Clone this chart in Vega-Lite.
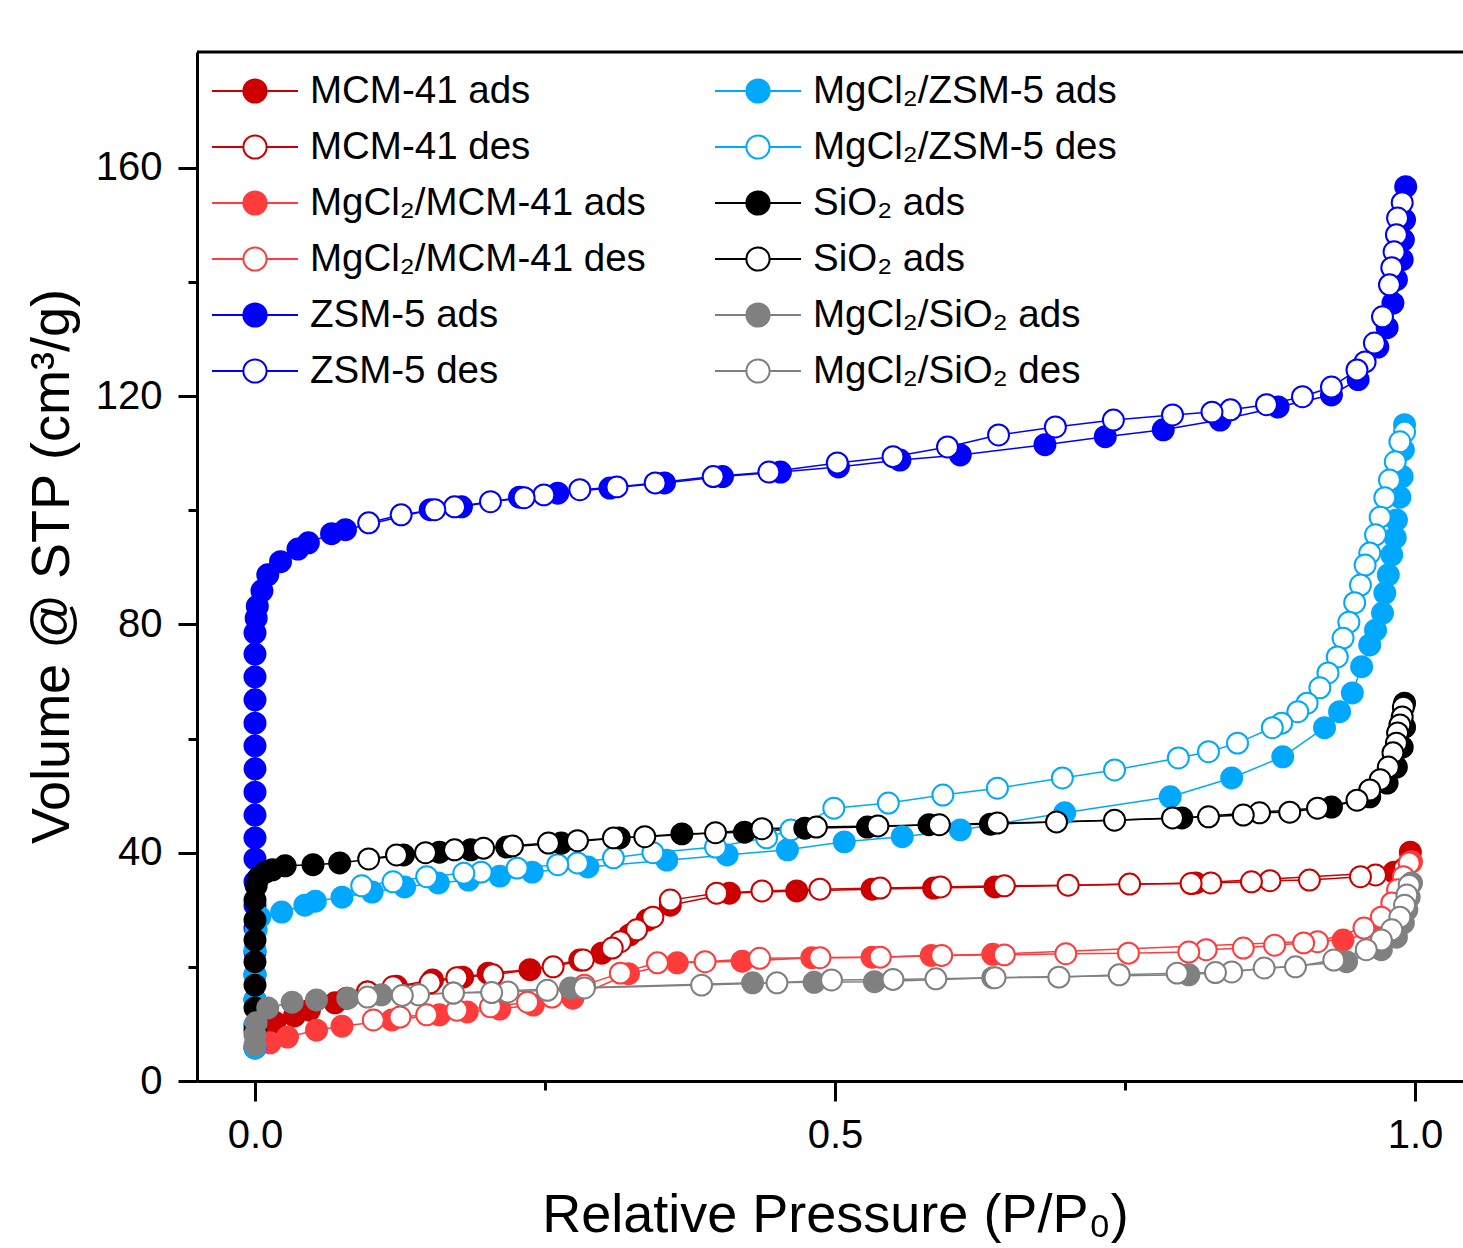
{
  "$schema": "https://vega.github.io/schema/vega-lite/v6.json",
  "autosize": {"type": "none"},
  "padding": {"left": 197, "top": 52, "right": 0, "bottom": 167},
  "width": 1266,
  "height": 1029,
  "background": "white",
  "config": {
    "view": {"stroke": null},
    "axis": {"domainColor": "black", "domainWidth": 3, "tickColor": "black", "tickWidth": 3, "labelFont": "Liberation Sans", "labelFontSize": 40, "labelColor": "black", "titleFont": "Liberation Sans", "titleFontSize": 54, "titleFontWeight": "normal", "titleColor": "black", "grid": false, "labelFlush": false, "labelOverlap": false}
  },
  "datasets": {
    "iso": [
      {"s":"MCM-41 ads","p":0.001,"v":6.3},{"s":"MCM-41 ads","p":0.006,"v":8.9},{"s":"MCM-41 ads","p":0.017,"v":10.3},{"s":"MCM-41 ads","p":0.034,"v":11.4},{"s":"MCM-41 ads","p":0.047,"v":12.4},{"s":"MCM-41 ads","p":0.069,"v":13.7},{"s":"MCM-41 ads","p":0.079,"v":14.5},{"s":"MCM-41 ads","p":0.097,"v":15.6},{"s":"MCM-41 ads","p":0.122,"v":16.6},{"s":"MCM-41 ads","p":0.153,"v":17.7},{"s":"MCM-41 ads","p":0.179,"v":18.2},{"s":"MCM-41 ads","p":0.201,"v":18.9},{"s":"MCM-41 ads","p":0.237,"v":19.5},{"s":"MCM-41 ads","p":0.28,"v":21.2},{"s":"MCM-41 ads","p":0.299,"v":22.4},{"s":"MCM-41 ads","p":0.323,"v":25.6},{"s":"MCM-41 ads","p":0.338,"v":28.2},{"s":"MCM-41 ads","p":0.358,"v":30.8},{"s":"MCM-41 ads","p":0.409,"v":32.9},{"s":"MCM-41 ads","p":0.467,"v":33.3},{"s":"MCM-41 ads","p":0.532,"v":33.6},{"s":"MCM-41 ads","p":0.585,"v":33.8},{"s":"MCM-41 ads","p":0.638,"v":34.0},{"s":"MCM-41 ads","p":0.811,"v":34.7},{"s":"MCM-41 ads","p":0.982,"v":36.6},{"s":"MCM-41 ads","p":0.996,"v":40.1},
      {"s":"MCM-41 des","p":0.991,"v":37.3},{"s":"MCM-41 des","p":0.966,"v":36.1},{"s":"MCM-41 des","p":0.953,"v":35.8},{"s":"MCM-41 des","p":0.909,"v":35.2},{"s":"MCM-41 des","p":0.875,"v":35.1},{"s":"MCM-41 des","p":0.859,"v":34.9},{"s":"MCM-41 des","p":0.824,"v":34.7},{"s":"MCM-41 des","p":0.807,"v":34.6},{"s":"MCM-41 des","p":0.754,"v":34.5},{"s":"MCM-41 des","p":0.701,"v":34.3},{"s":"MCM-41 des","p":0.646,"v":34.2},{"s":"MCM-41 des","p":0.591,"v":34.0},{"s":"MCM-41 des","p":0.539,"v":33.8},{"s":"MCM-41 des","p":0.487,"v":33.6},{"s":"MCM-41 des","p":0.437,"v":33.3},{"s":"MCM-41 des","p":0.398,"v":32.9},{"s":"MCM-41 des","p":0.358,"v":31.7},{"s":"MCM-41 des","p":0.343,"v":28.7},{"s":"MCM-41 des","p":0.329,"v":26.5},{"s":"MCM-41 des","p":0.315,"v":24.4},{"s":"MCM-41 des","p":0.308,"v":23.3},{"s":"MCM-41 des","p":0.283,"v":21.2},{"s":"MCM-41 des","p":0.257,"v":20.0},{"s":"MCM-41 des","p":0.205,"v":18.6},{"s":"MCM-41 des","p":0.174,"v":18.1},{"s":"MCM-41 des","p":0.151,"v":17.2},{"s":"MCM-41 des","p":0.119,"v":16.5},{"s":"MCM-41 des","p":0.097,"v":15.6},
      {"s":"MgCl₂/MCM-41 ads","p":0.013,"v":6.7},{"s":"MgCl₂/MCM-41 ads","p":0.028,"v":7.7},{"s":"MgCl₂/MCM-41 ads","p":0.053,"v":8.9},{"s":"MgCl₂/MCM-41 ads","p":0.075,"v":9.6},{"s":"MgCl₂/MCM-41 ads","p":0.118,"v":10.7},{"s":"MgCl₂/MCM-41 ads","p":0.159,"v":11.6},{"s":"MgCl₂/MCM-41 ads","p":0.183,"v":12.1},{"s":"MgCl₂/MCM-41 ads","p":0.211,"v":12.6},{"s":"MgCl₂/MCM-41 ads","p":0.24,"v":13.3},{"s":"MgCl₂/MCM-41 ads","p":0.274,"v":14.5},{"s":"MgCl₂/MCM-41 ads","p":0.322,"v":18.8},{"s":"MgCl₂/MCM-41 ads","p":0.364,"v":20.7},{"s":"MgCl₂/MCM-41 ads","p":0.42,"v":21.0},{"s":"MgCl₂/MCM-41 ads","p":0.48,"v":21.6},{"s":"MgCl₂/MCM-41 ads","p":0.532,"v":21.7},{"s":"MgCl₂/MCM-41 ads","p":0.583,"v":22.0},{"s":"MgCl₂/MCM-41 ads","p":0.636,"v":22.2},{"s":"MgCl₂/MCM-41 ads","p":0.938,"v":24.7},{"s":"MgCl₂/MCM-41 ads","p":0.974,"v":26.5},{"s":"MgCl₂/MCM-41 ads","p":0.987,"v":30.8},{"s":"MgCl₂/MCM-41 ads","p":0.993,"v":34.3},{"s":"MgCl₂/MCM-41 ads","p":0.997,"v":38.4},
      {"s":"MgCl₂/MCM-41 des","p":0.995,"v":38.2},{"s":"MgCl₂/MCM-41 des","p":0.99,"v":35.8},{"s":"MgCl₂/MCM-41 des","p":0.985,"v":33.5},{"s":"MgCl₂/MCM-41 des","p":0.98,"v":31.2},{"s":"MgCl₂/MCM-41 des","p":0.971,"v":28.7},{"s":"MgCl₂/MCM-41 des","p":0.956,"v":26.8},{"s":"MgCl₂/MCM-41 des","p":0.916,"v":24.4},{"s":"MgCl₂/MCM-41 des","p":0.904,"v":24.2},{"s":"MgCl₂/MCM-41 des","p":0.879,"v":23.8},{"s":"MgCl₂/MCM-41 des","p":0.852,"v":23.3},{"s":"MgCl₂/MCM-41 des","p":0.82,"v":23.0},{"s":"MgCl₂/MCM-41 des","p":0.805,"v":22.6},{"s":"MgCl₂/MCM-41 des","p":0.753,"v":22.4},{"s":"MgCl₂/MCM-41 des","p":0.699,"v":22.3},{"s":"MgCl₂/MCM-41 des","p":0.646,"v":22.1},{"s":"MgCl₂/MCM-41 des","p":0.592,"v":22.0},{"s":"MgCl₂/MCM-41 des","p":0.539,"v":21.7},{"s":"MgCl₂/MCM-41 des","p":0.487,"v":21.6},{"s":"MgCl₂/MCM-41 des","p":0.435,"v":21.5},{"s":"MgCl₂/MCM-41 des","p":0.388,"v":20.9},{"s":"MgCl₂/MCM-41 des","p":0.347,"v":20.7},{"s":"MgCl₂/MCM-41 des","p":0.315,"v":18.9},{"s":"MgCl₂/MCM-41 des","p":0.284,"v":16.8},{"s":"MgCl₂/MCM-41 des","p":0.256,"v":14.7},{"s":"MgCl₂/MCM-41 des","p":0.235,"v":13.8},{"s":"MgCl₂/MCM-41 des","p":0.203,"v":13.0},{"s":"MgCl₂/MCM-41 des","p":0.174,"v":12.4},{"s":"MgCl₂/MCM-41 des","p":0.148,"v":11.6},{"s":"MgCl₂/MCM-41 des","p":0.125,"v":11.2},{"s":"MgCl₂/MCM-41 des","p":0.102,"v":10.7},
      {"s":"ZSM-5 ads","p":0,"v":5.8},{"s":"ZSM-5 ads","p":0,"v":9.8},{"s":"ZSM-5 ads","p":0,"v":14.2},{"s":"ZSM-5 ads","p":0,"v":18.6},{"s":"ZSM-5 ads","p":0,"v":22.6},{"s":"ZSM-5 ads","p":0,"v":26.8},{"s":"ZSM-5 ads","p":0,"v":30.8},{"s":"ZSM-5 ads","p":0,"v":34.9},{"s":"ZSM-5 ads","p":0,"v":38.9},{"s":"ZSM-5 ads","p":0,"v":42.6},{"s":"ZSM-5 ads","p":0,"v":46.6},{"s":"ZSM-5 ads","p":0,"v":50.6},{"s":"ZSM-5 ads","p":0,"v":54.7},{"s":"ZSM-5 ads","p":0,"v":58.7},{"s":"ZSM-5 ads","p":0,"v":62.7},{"s":"ZSM-5 ads","p":0,"v":66.8},{"s":"ZSM-5 ads","p":0,"v":70.8},{"s":"ZSM-5 ads","p":0,"v":74.8},{"s":"ZSM-5 ads","p":0,"v":78.5},{"s":"ZSM-5 ads","p":0.001,"v":81.1},{"s":"ZSM-5 ads","p":0.002,"v":83.2},{"s":"ZSM-5 ads","p":0.006,"v":85.9},{"s":"ZSM-5 ads","p":0.011,"v":88.7},{"s":"ZSM-5 ads","p":0.022,"v":91.0},{"s":"ZSM-5 ads","p":0.037,"v":93.2},{"s":"ZSM-5 ads","p":0.046,"v":94.3},{"s":"ZSM-5 ads","p":0.066,"v":95.9},{"s":"ZSM-5 ads","p":0.078,"v":96.6},{"s":"ZSM-5 ads","p":0.151,"v":100.1},{"s":"ZSM-5 ads","p":0.178,"v":100.6},{"s":"ZSM-5 ads","p":0.228,"v":102.3},{"s":"ZSM-5 ads","p":0.261,"v":103.0},{"s":"ZSM-5 ads","p":0.306,"v":103.9},{"s":"ZSM-5 ads","p":0.353,"v":104.8},{"s":"ZSM-5 ads","p":0.403,"v":105.9},{"s":"ZSM-5 ads","p":0.453,"v":106.7},{"s":"ZSM-5 ads","p":0.503,"v":107.6},{"s":"ZSM-5 ads","p":0.556,"v":108.8},{"s":"ZSM-5 ads","p":0.608,"v":109.7},{"s":"ZSM-5 ads","p":0.681,"v":111.5},{"s":"ZSM-5 ads","p":0.733,"v":112.9},{"s":"ZSM-5 ads","p":0.783,"v":114.1},{"s":"ZSM-5 ads","p":0.832,"v":115.8},{"s":"ZSM-5 ads","p":0.882,"v":118.1},{"s":"ZSM-5 ads","p":0.928,"v":120.2},{"s":"ZSM-5 ads","p":0.951,"v":122.9},{"s":"ZSM-5 ads","p":0.968,"v":128.6},{"s":"ZSM-5 ads","p":0.976,"v":132.0},{"s":"ZSM-5 ads","p":0.981,"v":136.3},{"s":"ZSM-5 ads","p":0.984,"v":140.4},{"s":"ZSM-5 ads","p":0.989,"v":143.9},{"s":"ZSM-5 ads","p":0.99,"v":147.4},{"s":"ZSM-5 ads","p":0.991,"v":150.9},{"s":"ZSM-5 ads","p":0.992,"v":156.7},
      {"s":"ZSM-5 des","p":0.989,"v":153.9},{"s":"ZSM-5 des","p":0.985,"v":151.2},{"s":"ZSM-5 des","p":0.984,"v":148.3},{"s":"ZSM-5 des","p":0.982,"v":145.3},{"s":"ZSM-5 des","p":0.98,"v":142.5},{"s":"ZSM-5 des","p":0.978,"v":139.5},{"s":"ZSM-5 des","p":0.972,"v":133.9},{"s":"ZSM-5 des","p":0.965,"v":129.3},{"s":"ZSM-5 des","p":0.957,"v":126.0},{"s":"ZSM-5 des","p":0.95,"v":124.6},{"s":"ZSM-5 des","p":0.928,"v":121.6},{"s":"ZSM-5 des","p":0.903,"v":119.9},{"s":"ZSM-5 des","p":0.872,"v":118.5},{"s":"ZSM-5 des","p":0.841,"v":117.6},{"s":"ZSM-5 des","p":0.825,"v":117.2},{"s":"ZSM-5 des","p":0.791,"v":116.7},{"s":"ZSM-5 des","p":0.74,"v":115.8},{"s":"ZSM-5 des","p":0.69,"v":114.6},{"s":"ZSM-5 des","p":0.641,"v":113.2},{"s":"ZSM-5 des","p":0.597,"v":111.1},{"s":"ZSM-5 des","p":0.55,"v":109.4},{"s":"ZSM-5 des","p":0.502,"v":108.3},{"s":"ZSM-5 des","p":0.443,"v":106.7},{"s":"ZSM-5 des","p":0.395,"v":105.9},{"s":"ZSM-5 des","p":0.345,"v":104.8},{"s":"ZSM-5 des","p":0.312,"v":104.1},{"s":"ZSM-5 des","p":0.28,"v":103.6},{"s":"ZSM-5 des","p":0.249,"v":102.7},{"s":"ZSM-5 des","p":0.232,"v":102.2},{"s":"ZSM-5 des","p":0.203,"v":101.5},{"s":"ZSM-5 des","p":0.172,"v":100.6},{"s":"ZSM-5 des","p":0.155,"v":100.1},{"s":"ZSM-5 des","p":0.126,"v":99.2},{"s":"ZSM-5 des","p":0.098,"v":97.8},
      {"s":"MgCl₂/ZSM-5 ads","p":0,"v":5.8},{"s":"MgCl₂/ZSM-5 ads","p":0,"v":9.8},{"s":"MgCl₂/ZSM-5 ads","p":0,"v":14.2},{"s":"MgCl₂/ZSM-5 ads","p":0,"v":18.6},{"s":"MgCl₂/ZSM-5 ads","p":0,"v":23.0},{"s":"MgCl₂/ZSM-5 ads","p":0.001,"v":26.5},{"s":"MgCl₂/ZSM-5 ads","p":0.004,"v":28.7},{"s":"MgCl₂/ZSM-5 ads","p":0.023,"v":29.6},{"s":"MgCl₂/ZSM-5 ads","p":0.043,"v":30.8},{"s":"MgCl₂/ZSM-5 ads","p":0.052,"v":31.5},{"s":"MgCl₂/ZSM-5 ads","p":0.075,"v":32.2},{"s":"MgCl₂/ZSM-5 ads","p":0.101,"v":33.1},{"s":"MgCl₂/ZSM-5 ads","p":0.129,"v":34.0},{"s":"MgCl₂/ZSM-5 ads","p":0.158,"v":34.7},{"s":"MgCl₂/ZSM-5 ads","p":0.184,"v":35.2},{"s":"MgCl₂/ZSM-5 ads","p":0.211,"v":35.9},{"s":"MgCl₂/ZSM-5 ads","p":0.239,"v":36.6},{"s":"MgCl₂/ZSM-5 ads","p":0.287,"v":37.5},{"s":"MgCl₂/ZSM-5 ads","p":0.355,"v":38.7},{"s":"MgCl₂/ZSM-5 ads","p":0.407,"v":39.6},{"s":"MgCl₂/ZSM-5 ads","p":0.459,"v":40.5},{"s":"MgCl₂/ZSM-5 ads","p":0.508,"v":41.9},{"s":"MgCl₂/ZSM-5 ads","p":0.558,"v":42.8},{"s":"MgCl₂/ZSM-5 ads","p":0.608,"v":44.0},{"s":"MgCl₂/ZSM-5 ads","p":0.698,"v":47.0},{"s":"MgCl₂/ZSM-5 ads","p":0.789,"v":49.8},{"s":"MgCl₂/ZSM-5 ads","p":0.842,"v":53.1},{"s":"MgCl₂/ZSM-5 ads","p":0.886,"v":56.8},{"s":"MgCl₂/ZSM-5 ads","p":0.922,"v":61.9},{"s":"MgCl₂/ZSM-5 ads","p":0.935,"v":64.7},{"s":"MgCl₂/ZSM-5 ads","p":0.946,"v":68.0},{"s":"MgCl₂/ZSM-5 ads","p":0.954,"v":72.6},{"s":"MgCl₂/ZSM-5 ads","p":0.961,"v":76.4},{"s":"MgCl₂/ZSM-5 ads","p":0.966,"v":79.0},{"s":"MgCl₂/ZSM-5 ads","p":0.972,"v":82.0},{"s":"MgCl₂/ZSM-5 ads","p":0.974,"v":85.5},{"s":"MgCl₂/ZSM-5 ads","p":0.977,"v":88.7},{"s":"MgCl₂/ZSM-5 ads","p":0.98,"v":92.2},{"s":"MgCl₂/ZSM-5 ads","p":0.983,"v":95.2},{"s":"MgCl₂/ZSM-5 ads","p":0.984,"v":98.3},{"s":"MgCl₂/ZSM-5 ads","p":0.987,"v":102.3},{"s":"MgCl₂/ZSM-5 ads","p":0.989,"v":105.9},{"s":"MgCl₂/ZSM-5 ads","p":0.99,"v":110.6},{"s":"MgCl₂/ZSM-5 ads","p":0.991,"v":115.0},
      {"s":"MgCl₂/ZSM-5 des","p":0.991,"v":113.7},{"s":"MgCl₂/ZSM-5 des","p":0.987,"v":112.0},{"s":"MgCl₂/ZSM-5 des","p":0.983,"v":108.5},{"s":"MgCl₂/ZSM-5 des","p":0.978,"v":105.3},{"s":"MgCl₂/ZSM-5 des","p":0.974,"v":102.2},{"s":"MgCl₂/ZSM-5 des","p":0.97,"v":98.8},{"s":"MgCl₂/ZSM-5 des","p":0.966,"v":95.7},{"s":"MgCl₂/ZSM-5 des","p":0.961,"v":92.5},{"s":"MgCl₂/ZSM-5 des","p":0.957,"v":90.4},{"s":"MgCl₂/ZSM-5 des","p":0.953,"v":86.9},{"s":"MgCl₂/ZSM-5 des","p":0.948,"v":83.8},{"s":"MgCl₂/ZSM-5 des","p":0.943,"v":80.4},{"s":"MgCl₂/ZSM-5 des","p":0.938,"v":77.6},{"s":"MgCl₂/ZSM-5 des","p":0.933,"v":74.3},{"s":"MgCl₂/ZSM-5 des","p":0.925,"v":71.5},{"s":"MgCl₂/ZSM-5 des","p":0.918,"v":68.9},{"s":"MgCl₂/ZSM-5 des","p":0.907,"v":66.2},{"s":"MgCl₂/ZSM-5 des","p":0.899,"v":64.7},{"s":"MgCl₂/ZSM-5 des","p":0.885,"v":62.7},{"s":"MgCl₂/ZSM-5 des","p":0.877,"v":61.9},{"s":"MgCl₂/ZSM-5 des","p":0.847,"v":59.2},{"s":"MgCl₂/ZSM-5 des","p":0.822,"v":57.7},{"s":"MgCl₂/ZSM-5 des","p":0.796,"v":56.6},{"s":"MgCl₂/ZSM-5 des","p":0.741,"v":54.5},{"s":"MgCl₂/ZSM-5 des","p":0.696,"v":53.1},{"s":"MgCl₂/ZSM-5 des","p":0.64,"v":51.3},{"s":"MgCl₂/ZSM-5 des","p":0.593,"v":50.1},{"s":"MgCl₂/ZSM-5 des","p":0.546,"v":48.7},{"s":"MgCl₂/ZSM-5 des","p":0.499,"v":47.8},{"s":"MgCl₂/ZSM-5 des","p":0.462,"v":44.0},{"s":"MgCl₂/ZSM-5 des","p":0.441,"v":42.6},{"s":"MgCl₂/ZSM-5 des","p":0.397,"v":41.0},{"s":"MgCl₂/ZSM-5 des","p":0.343,"v":40.0},{"s":"MgCl₂/ZSM-5 des","p":0.309,"v":39.1},{"s":"MgCl₂/ZSM-5 des","p":0.278,"v":38.2},{"s":"MgCl₂/ZSM-5 des","p":0.261,"v":37.9},{"s":"MgCl₂/ZSM-5 des","p":0.226,"v":37.3},{"s":"MgCl₂/ZSM-5 des","p":0.195,"v":36.6},{"s":"MgCl₂/ZSM-5 des","p":0.18,"v":36.4},{"s":"MgCl₂/ZSM-5 des","p":0.148,"v":35.8},{"s":"MgCl₂/ZSM-5 des","p":0.119,"v":34.9},{"s":"MgCl₂/ZSM-5 des","p":0.092,"v":34.2},
      {"s":"SiO₂ ads","p":0,"v":8.9},{"s":"SiO₂ ads","p":0,"v":12.8},{"s":"SiO₂ ads","p":0,"v":16.8},{"s":"SiO₂ ads","p":0,"v":20.9},{"s":"SiO₂ ads","p":0,"v":24.7},{"s":"SiO₂ ads","p":0,"v":28.2},{"s":"SiO₂ ads","p":0,"v":31.7},{"s":"SiO₂ ads","p":0.001,"v":34.2},{"s":"SiO₂ ads","p":0.003,"v":35.6},{"s":"SiO₂ ads","p":0.009,"v":36.6},{"s":"SiO₂ ads","p":0.015,"v":37.0},{"s":"SiO₂ ads","p":0.026,"v":37.7},{"s":"SiO₂ ads","p":0.05,"v":37.9},{"s":"SiO₂ ads","p":0.073,"v":38.2},{"s":"SiO₂ ads","p":0.128,"v":39.6},{"s":"SiO₂ ads","p":0.159,"v":40.1},{"s":"SiO₂ ads","p":0.186,"v":40.5},{"s":"SiO₂ ads","p":0.217,"v":41.0},{"s":"SiO₂ ads","p":0.264,"v":41.7},{"s":"SiO₂ ads","p":0.314,"v":42.6},{"s":"SiO₂ ads","p":0.368,"v":43.3},{"s":"SiO₂ ads","p":0.422,"v":43.6},{"s":"SiO₂ ads","p":0.474,"v":44.3},{"s":"SiO₂ ads","p":0.528,"v":44.5},{"s":"SiO₂ ads","p":0.581,"v":44.9},{"s":"SiO₂ ads","p":0.634,"v":45.0},{"s":"SiO₂ ads","p":0.799,"v":46.1},{"s":"SiO₂ ads","p":0.928,"v":48.0},{"s":"SiO₂ ads","p":0.961,"v":49.8},{"s":"SiO₂ ads","p":0.976,"v":52.2},{"s":"SiO₂ ads","p":0.984,"v":55.0},{"s":"SiO₂ ads","p":0.989,"v":58.5},{"s":"SiO₂ ads","p":0.991,"v":62.0},{"s":"SiO₂ ads","p":0.991,"v":66.2},
      {"s":"SiO₂ des","p":0.99,"v":65.5},{"s":"SiO₂ des","p":0.989,"v":63.8},{"s":"SiO₂ des","p":0.987,"v":62.4},{"s":"SiO₂ des","p":0.985,"v":61.0},{"s":"SiO₂ des","p":0.984,"v":59.2},{"s":"SiO₂ des","p":0.981,"v":57.5},{"s":"SiO₂ des","p":0.977,"v":55.0},{"s":"SiO₂ des","p":0.97,"v":52.8},{"s":"SiO₂ des","p":0.961,"v":51.0},{"s":"SiO₂ des","p":0.95,"v":49.2},{"s":"SiO₂ des","p":0.916,"v":47.8},{"s":"SiO₂ des","p":0.892,"v":47.1},{"s":"SiO₂ des","p":0.866,"v":47.0},{"s":"SiO₂ des","p":0.852,"v":46.6},{"s":"SiO₂ des","p":0.822,"v":46.3},{"s":"SiO₂ des","p":0.791,"v":46.1},{"s":"SiO₂ des","p":0.741,"v":45.7},{"s":"SiO₂ des","p":0.691,"v":45.4},{"s":"SiO₂ des","p":0.64,"v":45.2},{"s":"SiO₂ des","p":0.59,"v":44.9},{"s":"SiO₂ des","p":0.537,"v":44.7},{"s":"SiO₂ des","p":0.484,"v":44.5},{"s":"SiO₂ des","p":0.437,"v":44.2},{"s":"SiO₂ des","p":0.397,"v":43.5},{"s":"SiO₂ des","p":0.336,"v":42.8},{"s":"SiO₂ des","p":0.309,"v":42.6},{"s":"SiO₂ des","p":0.278,"v":42.1},{"s":"SiO₂ des","p":0.253,"v":41.7},{"s":"SiO₂ des","p":0.222,"v":41.2},{"s":"SiO₂ des","p":0.197,"v":40.8},{"s":"SiO₂ des","p":0.172,"v":40.5},{"s":"SiO₂ des","p":0.147,"v":40.0},{"s":"SiO₂ des","p":0.122,"v":39.6},{"s":"SiO₂ des","p":0.098,"v":38.9},
      {"s":"MgCl₂/SiO₂ ads","p":0,"v":6.3},{"s":"MgCl₂/SiO₂ ads","p":0,"v":8.1},{"s":"MgCl₂/SiO₂ ads","p":0.001,"v":10.2},{"s":"MgCl₂/SiO₂ ads","p":0.011,"v":12.8},{"s":"MgCl₂/SiO₂ ads","p":0.032,"v":13.8},{"s":"MgCl₂/SiO₂ ads","p":0.053,"v":14.2},{"s":"MgCl₂/SiO₂ ads","p":0.08,"v":14.5},{"s":"MgCl₂/SiO₂ ads","p":0.109,"v":15.1},{"s":"MgCl₂/SiO₂ ads","p":0.171,"v":15.4},{"s":"MgCl₂/SiO₂ ads","p":0.272,"v":16.3},{"s":"MgCl₂/SiO₂ ads","p":0.429,"v":17.2},{"s":"MgCl₂/SiO₂ ads","p":0.482,"v":17.3},{"s":"MgCl₂/SiO₂ ads","p":0.534,"v":17.4},{"s":"MgCl₂/SiO₂ ads","p":0.636,"v":18.1},{"s":"MgCl₂/SiO₂ ads","p":0.805,"v":18.6},{"s":"MgCl₂/SiO₂ ads","p":0.941,"v":20.9},{"s":"MgCl₂/SiO₂ ads","p":0.971,"v":23.0},{"s":"MgCl₂/SiO₂ ads","p":0.984,"v":25.2},{"s":"MgCl₂/SiO₂ ads","p":0.99,"v":27.7},{"s":"MgCl₂/SiO₂ ads","p":0.993,"v":30.0},{"s":"MgCl₂/SiO₂ ads","p":0.995,"v":32.2},{"s":"MgCl₂/SiO₂ ads","p":0.997,"v":34.7},
      {"s":"MgCl₂/SiO₂ des","p":0.995,"v":34.3},{"s":"MgCl₂/SiO₂ des","p":0.993,"v":32.6},{"s":"MgCl₂/SiO₂ des","p":0.991,"v":30.8},{"s":"MgCl₂/SiO₂ des","p":0.987,"v":28.7},{"s":"MgCl₂/SiO₂ des","p":0.98,"v":26.5},{"s":"MgCl₂/SiO₂ des","p":0.971,"v":24.7},{"s":"MgCl₂/SiO₂ des","p":0.958,"v":23.0},{"s":"MgCl₂/SiO₂ des","p":0.93,"v":21.2},{"s":"MgCl₂/SiO₂ des","p":0.897,"v":20.0},{"s":"MgCl₂/SiO₂ des","p":0.87,"v":19.8},{"s":"MgCl₂/SiO₂ des","p":0.842,"v":19.1},{"s":"MgCl₂/SiO₂ des","p":0.828,"v":19.0},{"s":"MgCl₂/SiO₂ des","p":0.795,"v":18.9},{"s":"MgCl₂/SiO₂ des","p":0.745,"v":18.6},{"s":"MgCl₂/SiO₂ des","p":0.693,"v":18.2},{"s":"MgCl₂/SiO₂ des","p":0.638,"v":18.1},{"s":"MgCl₂/SiO₂ des","p":0.587,"v":17.9},{"s":"MgCl₂/SiO₂ des","p":0.55,"v":17.8},{"s":"MgCl₂/SiO₂ des","p":0.497,"v":17.7},{"s":"MgCl₂/SiO₂ des","p":0.45,"v":17.2},{"s":"MgCl₂/SiO₂ des","p":0.385,"v":16.8},{"s":"MgCl₂/SiO₂ des","p":0.284,"v":16.3},{"s":"MgCl₂/SiO₂ des","p":0.252,"v":15.9},{"s":"MgCl₂/SiO₂ des","p":0.218,"v":15.6},{"s":"MgCl₂/SiO₂ des","p":0.204,"v":15.5},{"s":"MgCl₂/SiO₂ des","p":0.171,"v":15.4},{"s":"MgCl₂/SiO₂ des","p":0.141,"v":15.1},{"s":"MgCl₂/SiO₂ des","p":0.127,"v":15.0},{"s":"MgCl₂/SiO₂ des","p":0.097,"v":14.7}
    ]
  },
  "layer": [
    {
      "data": {"values": [{"edge": "top"}]},
      "mark": {"type": "rule", "color": "black", "strokeWidth": 3},
      "encoding": {"y": {"datum": 180.3, "type": "quantitative"}}
    },
    {
      "data": {"name": "iso"},
      "mark": {"type": "line", "strokeWidth": 1.5},
      "encoding": {
        "x": {"field": "p", "type": "quantitative", "scale": {"domain": [-0.05, 1.0414], "nice": false, "zero": false},
          "axis": {"values": [0, 0.25, 0.5, 0.75, 1], "labelExpr": "datum.value==0?'0.0':datum.value==0.5?'0.5':datum.value==1?'1.0':''", "tickSize": {"condition": {"test": "datum.value==0||datum.value==0.5||datum.value==1", "value": 20}, "value": 9}, "labelPadding": 14, "title": "Relative Pressure (P/P₀)", "titleX": 638, "titleY": 150, "titleAlign": "center", "titleBaseline": "alphabetic"}},
        "y": {"field": "v", "type": "quantitative", "scale": {"domain": [0, 180.3], "nice": false, "zero": false},
          "axis": {"values": [0, 20, 40, 60, 80, 100, 120, 140, 160], "labelExpr": "datum.value%40==0?datum.label:''", "tickSize": {"condition": {"test": "datum.value%40==0", "value": 19}, "value": 9}, "labelPadding": 16, "title": "Volume @ STP (cm³/g)", "titleX": -129, "titleY": 514, "titleAngle": -90, "titleAlign": "center", "titleBaseline": "alphabetic"}},
        "stroke": {"field": "s", "type": "nominal",
          "scale": {"domain": ["MCM-41 ads","MCM-41 des","MgCl₂/MCM-41 ads","MgCl₂/MCM-41 des","ZSM-5 ads","ZSM-5 des","MgCl₂/ZSM-5 ads","MgCl₂/ZSM-5 des","SiO₂ ads","SiO₂ des","MgCl₂/SiO₂ ads","MgCl₂/SiO₂ des"],
            "range": ["#CC0000","#CC0000","#FF3C3C","#FF3C3C","#0000FF","#0000FF","#00A8FF","#00A8FF","#000000","#000000","#808080","#808080"]},
          "legend": {"title": null, "orient": "none", "legendX": 14, "legendY": 11, "direction": "vertical", "columns": 2, "symbolType": "M-1,0L-0.27,0M0.27,0L1,0M-0.27,0A0.27,0.27,0,1,1,0.27,0A0.27,0.27,0,1,1,-0.27,0Z", "symbolSize": 7396, "symbolStrokeWidth": 2, "clipHeight": 56, "rowPadding": 0, "columnPadding": 68, "labelOffset": 11, "labelFont": "Liberation Sans", "labelFontSize": 38.5, "labelColor": "black", "labelLimit": 0, "padding": 0, "labelExpr": "datum.label=='SiO₂ des'?'SiO₂ ads':datum.label"}},
        "order": {"field": "v", "type": "quantitative"}
      }
    },
    {
      "data": {"name": "iso"},
      "mark": {"type": "point", "shape": "circle", "filled": true, "size": 440, "strokeWidth": 2, "opacity": 1},
      "encoding": {
        "x": {"field": "p", "type": "quantitative"},
        "y": {"field": "v", "type": "quantitative"},
        "stroke": {"field": "s", "type": "nominal",
          "legend": {"title": null, "orient": "none", "legendX": 14, "legendY": 11, "direction": "vertical", "columns": 2, "symbolType": "M-1,0L-0.27,0M0.27,0L1,0M-0.27,0A0.27,0.27,0,1,1,0.27,0A0.27,0.27,0,1,1,-0.27,0Z", "symbolSize": 7396, "symbolStrokeWidth": 2, "clipHeight": 56, "rowPadding": 0, "columnPadding": 68, "labelOffset": 11, "labelFont": "Liberation Sans", "labelFontSize": 38.5, "labelColor": "black", "labelLimit": 0, "padding": 0, "labelExpr": "datum.label=='SiO₂ des'?'SiO₂ ads':datum.label"}},
        "fill": {"field": "s", "type": "nominal",
          "scale": {"domain": ["MCM-41 ads","MCM-41 des","MgCl₂/MCM-41 ads","MgCl₂/MCM-41 des","ZSM-5 ads","ZSM-5 des","MgCl₂/ZSM-5 ads","MgCl₂/ZSM-5 des","SiO₂ ads","SiO₂ des","MgCl₂/SiO₂ ads","MgCl₂/SiO₂ des"],
            "range": ["#CC0000","#FFFFFF","#FF3C3C","#FFFFFF","#0000FF","#FFFFFF","#00A8FF","#FFFFFF","#000000","#FFFFFF","#808080","#FFFFFF"]},
          "legend": {"title": null, "orient": "none", "legendX": 14, "legendY": 11, "direction": "vertical", "columns": 2, "symbolType": "M-1,0L-0.27,0M0.27,0L1,0M-0.27,0A0.27,0.27,0,1,1,0.27,0A0.27,0.27,0,1,1,-0.27,0Z", "symbolSize": 7396, "symbolStrokeWidth": 2, "clipHeight": 56, "rowPadding": 0, "columnPadding": 68, "labelOffset": 11, "labelFont": "Liberation Sans", "labelFontSize": 38.5, "labelColor": "black", "labelLimit": 0, "padding": 0, "labelExpr": "datum.label=='SiO₂ des'?'SiO₂ ads':datum.label"}}
      }
    }
  ]
}
